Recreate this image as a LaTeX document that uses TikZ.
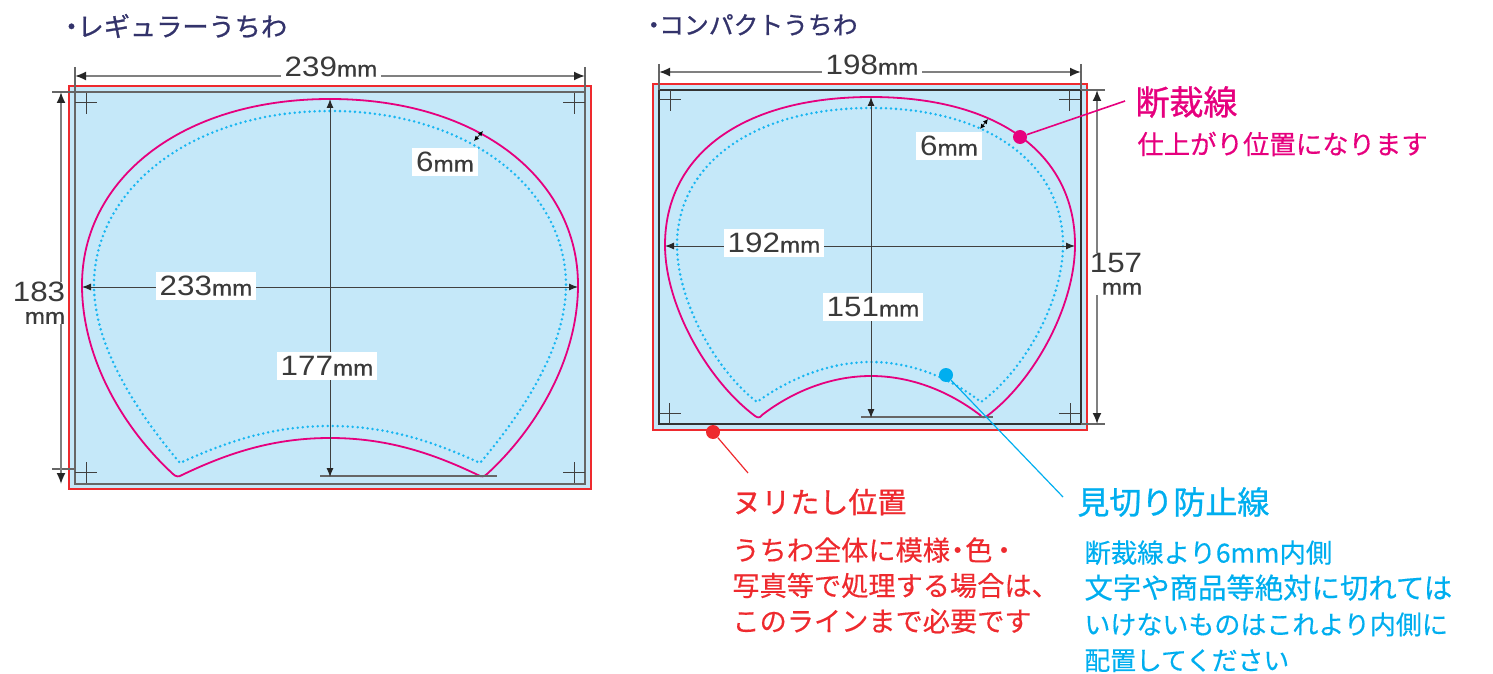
\documentclass[tikz,border=0pt]{standalone}
\usepackage{fontspec}
\setmainfont{Noto Sans CJK JP}
\newfontfamily\headfont{Noto Sans CJK JP}[FakeBold=0.8]
\newfontfamily\bodyfont{Noto Sans CJK JP}[FakeBold=0.35]
\newfontfamily\numfont{Liberation Sans}[FakeStretch=1.12]
\newfontfamily\unitfont{Liberation Sans}[FakeStretch=1.1,FakeBold=0.8]
\usetikzlibrary{arrows.meta}
\definecolor{sheetblue}{HTML}{C5E8F9}
\definecolor{cutpink}{HTML}{E6007E}
\definecolor{bleedred}{HTML}{EE2A2E}
\definecolor{safecyan}{HTML}{00AEEF}
\definecolor{titlenavy}{HTML}{33336B}
\definecolor{dimgrey}{HTML}{3A3A3A}
\newcommand{\dimtxt}[2]{{\numfont\fontsize{14}{14}\selectfont\color{dimgrey}#1}{\unitfont\fontsize{11}{11}\selectfont\color{dimgrey}#2}}
\tikzset{
  x=0.5pt, y=-0.5pt,
  bleedbox/.style={draw=bleedred, line width=1pt, fill=sheetblue},
  trimbox/.style={draw=black!60, line width=1pt},
  cutline/.style={draw=cutpink, line width=0.9pt},
  safeline/.style={draw=safecyan!90, line width=1.4pt, line cap=round, dash pattern=on 0pt off 2.5pt},
  cropmark/.style={draw=black!75, line width=0.5pt},
  outerdim/.style={draw=black!50, line width=0.9pt, {Latex[length=5.5pt,width=4.5pt,black!85]}-{Latex[length=5.5pt,width=4.5pt,black!85]}},
  innerdim/.style={draw=black!75, line width=0.5pt, {Latex[length=4.5pt,width=3.5pt,black!85]}-{Latex[length=4.5pt,width=3.5pt,black!85]}},
  shortdim/.style={draw=black!75, line width=0.5pt, {Latex[length=2.5pt,width=2.5pt,black]}-{Latex[length=2.5pt,width=2.5pt,black]}},
  dimtick/.style={draw=black!60, line width=0.6pt},
  dimlabel/.style={fill=white, inner sep=2pt},
  heightlabel/.style={fill=white, inner sep=0pt, align=right, font=\fontsize{14}{11}\selectfont},
  calldot/.style={circle, minimum size=7pt, inner sep=0pt},
}
\begin{document}
\begin{tikzpicture}
  \useasboundingbox (0,0) rectangle (1493,674);

  % regular sheet
  \draw[bleedbox] (69,86) rectangle (591,489);
  \draw[trimbox] (75,92) rectangle (585,484);
  \foreach \x/\h/\y/\v in {86/75/103/93, 574/563/103/93, 86/75/472/462, 574/563/472/462} {
    \draw[cropmark] (\h,\y) -- ++(22,0) (\x,\v) -- ++(0,21);
  }
  \draw[cutline, line join=round]
    (330,99) .. controls (480,99) and (578,180) .. (578,285)
    .. controls (578,360) and (535,430) .. (487,474)
    .. controls (484,477) and (481,477) .. (478,475)
    .. controls (430,452) and (385,438) .. (330,438)
    .. controls (275,438) and (230,452) .. (182,475)
    .. controls (179,477) and (176,477) .. (173,474)
    .. controls (125,430) and (82,360) .. (82,285)
    .. controls (82,180) and (180,99) .. (330,99) -- cycle;
  \draw[safeline]
    (330,111) .. controls (470,111) and (566,190) .. (566,285)
    .. controls (566,345) and (525,410) .. (480,463)
    .. controls (430,440) and (385,426) .. (330,426)
    .. controls (275,426) and (230,440) .. (180,463)
    .. controls (135,410) and (94,345) .. (94,285)
    .. controls (94,190) and (190,111) .. (330,111) -- cycle;

  \coordinate (rw1) at (75,76);
  \coordinate (rw2) at (585,76);
  \coordinate (rh1) at (61,92);
  \coordinate (rh2) at (61,484);
  \coordinate (ri1) at (330,99);
  \coordinate (ri2) at (330,477);
  \coordinate (rc1) at (82,287);
  \coordinate (rc2) at (578,287);
  \coordinate (rs1) at (474,141);
  \coordinate (rs2) at (483,131);
  \path[dimtick]
    (75,67) edge (75,92) (585,67) edge (585,92)
    (52,92) edge (75,92) (52,469) edge (75,469)
    (320,476) edge (497,476);
  \path (rw1) edge[outerdim] (rw2) (rh1) edge[outerdim] (rh2)
    (ri1) edge[innerdim] (ri2) (rc1) edge[innerdim] (rc2)
    (rs1) edge[shortdim] (rs2);
  \node[dimlabel] (rwtext) at (331,67) {\dimtxt{239}{mm}};
  \node[dimlabel] (rctext) at (206,286) {\dimtxt{233}{mm}};
  \node[dimlabel] (ritext) at (327,366) {\dimtxt{177}{mm}};
  \node[dimlabel] (rstext) at (445,162) {\dimtxt{6}{mm}};
  \node[heightlabel] (rhtext) at (39,303) {\dimtxt{183}{}\\\dimtxt{}{mm}};

  % compact sheet
  \draw[bleedbox] (653,84) rectangle (1087,430);
  \draw[trimbox, draw=black!80] (659,90) rectangle (1081,424);
  \foreach \x/\h/\y/\v in {670/659/100/90, 1069/1059/100/90, 669/659/413/403, 1070/1059/413/403} {
    \draw[cropmark] (\h,\y) -- ++(22,0) (\x,\v) -- ++(0,21);
  }
  \draw[cutline, line join=round]
    (871,97) .. controls (1000,97) and (1075,155) .. (1075,245)
    .. controls (1075,305) and (1035,380) .. (987,416)
    .. controls (984,418) and (982,418) .. (980,415)
    .. controls (950,392) and (912,376) .. (871,376)
    .. controls (830,376) and (792,392) .. (762,415)
    .. controls (760,418) and (758,418) .. (755,416)
    .. controls (707,380) and (665,305) .. (665,245)
    .. controls (665,155) and (742,97) .. (871,97) -- cycle;
  \draw[safeline]
    (871,108) .. controls (990,108) and (1063,165) .. (1063,245)
    .. controls (1063,300) and (1025,370) .. (981,402)
    .. controls (950,378) and (912,362) .. (871,362)
    .. controls (830,362) and (790,378) .. (757,402)
    .. controls (715,370) and (677,300) .. (677,245)
    .. controls (677,165) and (752,108) .. (871,108) -- cycle;

  \coordinate (cw1) at (659,72);
  \coordinate (cw2) at (1081,72);
  \coordinate (ch1) at (1097,90);
  \coordinate (ch2) at (1097,424);
  \coordinate (ci1) at (871,97);
  \coordinate (ci2) at (871,418);
  \coordinate (cc1) at (665,246);
  \coordinate (cc2) at (1075,246);
  \coordinate (cs1) at (980,129);
  \coordinate (cs2) at (988,119);
  \path[dimtick]
    (659,64) edge (659,90) (1081,64) edge (1081,90)
    (1081,90) edge (1105,90) (1081,424) edge (1105,424)
    (861,417) edge (993,417);
  \path (cw1) edge[outerdim] (cw2) (ch1) edge[outerdim] (ch2)
    (ci1) edge[innerdim] (ci2) (cc1) edge[innerdim] (cc2)
    (cs1) edge[shortdim] (cs2);
  \node[dimlabel] (cwtext) at (872,65) {\dimtxt{198}{mm}};
  \node[dimlabel] (cctext) at (774,243) {\dimtxt{192}{mm}};
  \node[dimlabel] (citext) at (873,307) {\dimtxt{151}{mm}};
  \node[dimlabel] (cstext) at (949,146) {\dimtxt{6}{mm}};
  \node[heightlabel] (chtext) at (1116,274) {\dimtxt{157}{}\\\dimtxt{}{mm}};

  % headings
  \node[anchor=west, inner sep=0pt, text=titlenavy, font=\headfont\fontsize{13.1}{13}\selectfont] (regtitle) at (58,26)
    {・\hspace{-3.5pt}レギュラーうちわ};
  \node[anchor=west, inner sep=0pt, text=titlenavy, font=\headfont\fontsize{12.4}{13}\selectfont] (comptitle) at (641,25)
    {・\hspace{-3.5pt}コンパクトうちわ};

  % callouts
  \node[calldot, fill=cutpink] (cutdot) at (1020,137) {};
  \coordinate (cutend) at (1125,101);
  \draw[cutpink, line width=0.8pt] (cutdot) -- (cutend);
  \node[anchor=west, inner sep=0pt, text=cutpink, font=\headfont\fontsize{17}{17}\selectfont] (cuthead) at (1135,102)
    {断裁線};
  \node[anchor=west, inner sep=0pt, text=cutpink, font=\bodyfont\fontsize{13.2}{14}\selectfont] (cuttext) at (1137,144)
    {仕上がり位置になります};

  \node[calldot, fill=bleedred] (bleeddot) at (713,432) {};
  \coordinate (bleedend) at (748,473);
  \draw[bleedred, line width=0.6pt] (bleeddot) -- (bleedend);
  \node[anchor=west, inner sep=0pt, text=bleedred, font=\headfont\fontsize{14.5}{15}\selectfont] (bleedhead) at (732,502)
    {ヌリたし位置};
  \node[anchor=north west, inner sep=0pt, text=bleedred, align=left, font=\bodyfont\fontsize{13.6}{17.75}\selectfont] (bleedtext) at (732,537)
    {うちわ全体に模様\hspace{-3pt}・\hspace{-3pt}色\hspace{-1pt}・\\写真等で処理する場合は、\\このラインまで必要です};

  \node[calldot, fill=safecyan] (safedot) at (946,375) {};
  \coordinate (safeend) at (1063,497);
  \draw[safecyan, line width=0.6pt] (safedot) -- (safeend);
  \node[anchor=west, inner sep=0pt, text=safecyan, font=\headfont\fontsize{16}{16}\selectfont] (safehead) at (1077,502)
    {見切り防止線};
  \node[anchor=north west, inner sep=0pt, text=safecyan, align=left, font=\bodyfont\fontsize{13.2}{17.9}\selectfont] (safetext) at (1084,540)
    {断裁線より6mm内側\\\fontsize{14.2}{17.9}\selectfont 文字や商品等絶対に切れては\\\fontsize{13}{17.9}\selectfont いけないものはこれより内側に\\\fontsize{12.9}{17.9}\selectfont 配置してください};
\end{tikzpicture}
\end{document}
